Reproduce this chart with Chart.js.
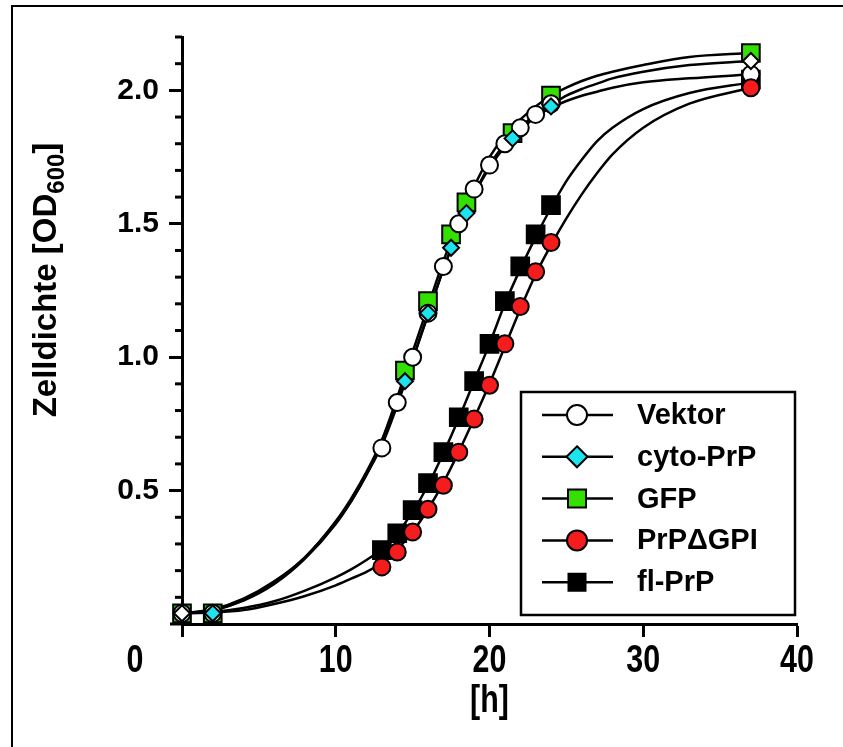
<!DOCTYPE html>
<html>
<head>
<meta charset="utf-8">
<script src="https://cdn.jsdelivr.net/npm/chart.js@4.4.0/dist/chart.umd.min.js"></script>
<style>
  html, body { margin: 0; padding: 0; background: #fff; }
</style>
</head>
<body>
<canvas id="growth-chart" width="843" height="747"></canvas>
<script>
// measured points (time in h, OD600)
const vektorX = [0, 2, 13, 14, 15, 16, 17, 18, 19, 20, 21, 22, 23, 24, 37];
const vektorY = [0.04, 0.04, 0.66, 0.83, 1.0, 1.165, 1.34, 1.50, 1.63, 1.72, 1.80, 1.86, 1.91, 1.95, 2.06];
const cytoX = [0, 2, 14.5, 16, 17.5, 18.5, 21.5, 24, 37];
const cytoY = [0.04, 0.04, 0.91, 1.165, 1.41, 1.54, 1.82, 1.94, 2.11];
const gfpX = [0, 2, 14.5, 16, 17.5, 18.5, 21.5, 24, 37];
const gfpY = [0.04, 0.04, 0.95, 1.21, 1.46, 1.58, 1.84, 1.98, 2.14];
const deltaX = [13, 14, 15, 16, 17, 18, 19, 20, 21, 22, 23, 24, 37];
const deltaY = [0.214, 0.27, 0.345, 0.43, 0.52, 0.644, 0.768, 0.895, 1.05, 1.19, 1.32, 1.43, 2.01];
const flX = [13, 14, 15, 16, 17, 18, 19, 20, 21, 22, 23, 24, 37];
const flY = [0.277, 0.34, 0.427, 0.528, 0.644, 0.775, 0.91, 1.05, 1.21, 1.34, 1.46, 1.57, 2.04];

// fitted growth curves
const fitX = [0, 2, 4, 6, 8, 10, 11, 12, 13, 14, 15, 16, 17, 18, 19, 20, 21, 22, 23, 24, 25, 26, 27, 28, 30, 33, 37];
const vektorFit = [0.04, 0.05, 0.09, 0.155, 0.25, 0.38, 0.46, 0.56, 0.67, 0.82, 0.99, 1.16, 1.33, 1.48, 1.61, 1.71, 1.79, 1.85, 1.90, 1.935, 1.96, 1.98, 1.995, 2.01, 2.03, 2.045, 2.06];
const cytoFit = [0.04, 0.052, 0.088, 0.15, 0.245, 0.375, 0.46, 0.56, 0.68, 0.83, 0.99, 1.16, 1.33, 1.48, 1.61, 1.72, 1.80, 1.86, 1.91, 1.945, 1.98, 2.005, 2.025, 2.045, 2.07, 2.095, 2.11];
const gfpFit = [0.04, 0.055, 0.095, 0.16, 0.25, 0.385, 0.47, 0.57, 0.69, 0.85, 1.02, 1.19, 1.36, 1.51, 1.64, 1.75, 1.83, 1.89, 1.94, 1.98, 2.01, 2.035, 2.055, 2.07, 2.095, 2.125, 2.14];
const deltaFit = [0.04, 0.043, 0.052, 0.075, 0.105, 0.145, 0.17, 0.195, 0.23, 0.28, 0.345, 0.43, 0.53, 0.645, 0.77, 0.90, 1.04, 1.18, 1.31, 1.42, 1.52, 1.61, 1.69, 1.76, 1.86, 1.95, 2.01];
const flFit = [0.04, 0.045, 0.06, 0.085, 0.125, 0.175, 0.205, 0.24, 0.28, 0.34, 0.42, 0.52, 0.64, 0.77, 0.91, 1.05, 1.20, 1.33, 1.45, 1.56, 1.66, 1.74, 1.81, 1.86, 1.93, 1.99, 2.03];

const seriesNames = ['Vektor', 'cyto-PrP', 'GFP', 'PrP\u0394GPI', 'fl-PrP'];
const xTicks = [0, 10, 20, 30, 40];

const GREEN = '#33e000';
const CYAN = '#1de3ef';
const RED = '#f41c1c';
const BOLD = '"Liberation Sans", Arial, sans-serif';

function pts(xs, ys) {
  return xs.map((x, i) => ({ x: x, y: ys[i] }));
}

function isMajor(v) {
  return v > 0.01 && Math.abs(v * 2 - Math.round(v * 2)) < 1e-6;
}

function curve(ys) {
  return {
    data: pts(fitX, ys),
    showLine: true,
    borderColor: '#000',
    borderWidth: 2.5,
    pointRadius: 0,
    cubicInterpolationMode: 'monotone',
    fill: false,
    order: 10,
    clip: false
  };
}

function markers(label, xs, ys, style, radius, fill, order) {
  return {
    label: label,
    data: pts(xs, ys),
    showLine: false,
    pointStyle: style,
    pointRadius: radius,
    pointHoverRadius: radius,
    pointBackgroundColor: fill,
    pointBorderColor: '#000',
    pointBorderWidth: 2,
    order: order,
    clip: false
  };
}

const legendItems = [
  { text: seriesNames[0], style: 'circle', fill: '#fff' },
  { text: seriesNames[1], style: 'diamond', fill: CYAN },
  { text: seriesNames[2], style: 'square', fill: GREEN },
  { text: seriesNames[3], style: 'circle', fill: RED },
  { text: seriesNames[4], style: 'smallsquare', fill: '#000' }
];

function drawMark(ctx, style, x, y, fill) {
  ctx.beginPath();
  if (style === 'circle') {
    ctx.arc(x, y, 10, 0, Math.PI * 2);
  } else if (style === 'diamond') {
    ctx.moveTo(x, y - 10.5); ctx.lineTo(x + 10.5, y); ctx.lineTo(x, y + 10.5); ctx.lineTo(x - 10.5, y);
    ctx.closePath();
  } else if (style === 'square') {
    ctx.rect(x - 9, y - 9, 18, 18);
  } else {
    ctx.rect(x - 8.5, y - 8.5, 17, 17);
  }
  ctx.fillStyle = fill;
  ctx.fill();
  ctx.lineWidth = 2;
  ctx.strokeStyle = '#000';
  ctx.stroke();
}

// condensed bold text, like the narrow face of the original
function narrowText(ctx, text, x, y, size) {
  ctx.save();
  ctx.translate(x, y);
  ctx.scale(0.8, 1);
  ctx.font = 'bold ' + size + 'px ' + BOLD;
  ctx.textAlign = 'center';
  ctx.textBaseline = 'middle';
  ctx.fillText(text, 0, 0);
  ctx.restore();
}

const extras = {
  id: 'extras',
  beforeDraw(chart) {
    const ctx = chart.ctx;
    ctx.save();
    ctx.fillStyle = '#fff';
    ctx.fillRect(0, 0, chart.width, chart.height);
    ctx.strokeStyle = '#000';
    ctx.lineWidth = 2;
    ctx.strokeRect(12, 6, chart.width + 20, chart.height + 20);
    ctx.restore();
  },
  afterDraw(chart) {
    const ctx = chart.ctx;
    const area = chart.chartArea;
    const ys = chart.scales.y;
    const xs = chart.scales.x;
    ctx.save();
    ctx.strokeStyle = '#000';
    ctx.fillStyle = '#000';

    // minor ticks on y
    ctx.lineWidth = 3;
    ys.ticks.forEach(t => {
      if (!isMajor(t.value) && t.value > 0.01) {
        const py = ys.getPixelForValue(t.value);
        ctx.beginPath();
        ctx.moveTo(area.left - 7, py);
        ctx.lineTo(area.left, py);
        ctx.stroke();
      }
    });
    // short piece of x axis left of the origin
    ctx.beginPath();
    ctx.moveTo(area.left - 12, area.bottom);
    ctx.lineTo(area.left, area.bottom);
    ctx.stroke();

    // x tick labels (the origin label sits further left)
    xTicks.forEach(v => {
      const px = xs.getPixelForValue(v) - (v === 0 ? 47 : 0);
      narrowText(ctx, String(v), px, area.bottom + 38, 38);
    });

    // x title
    narrowText(ctx, '[h]', (area.left + area.right) / 2, 702, 38);

    // y title with subscript
    ctx.translate(44, 280);
    ctx.rotate(-Math.PI / 2);
    const mainFont = 'bold 33px ' + BOLD;
    const subFont = 'bold 24px ' + BOLD;
    const a = 'Zelldichte [OD', b = '600', c = ']';
    ctx.font = mainFont; const wa = ctx.measureText(a).width; const wc = ctx.measureText(c).width;
    ctx.font = subFont; const wb = ctx.measureText(b).width;
    const x0 = -(wa + wb + wc) / 2;
    ctx.textAlign = 'left';
    ctx.textBaseline = 'alphabetic';
    ctx.font = mainFont; ctx.fillText(a, x0, 12);
    ctx.font = subFont; ctx.fillText(b, x0 + wa, 20);
    ctx.font = mainFont; ctx.fillText(c, x0 + wa + wb, 12);
    ctx.setTransform(1, 0, 0, 1, 0, 0);

    // legend
    const bx = area.right - 276, by = area.bottom - 232, bw = 274, bh = 223;
    ctx.lineWidth = 2.5;
    ctx.strokeRect(bx, by, bw, bh);
    ctx.font = 'bold 29px ' + BOLD;
    ctx.textAlign = 'left';
    ctx.textBaseline = 'middle';
    legendItems.forEach((it, i) => {
      const ly = by + 23 + i * 41.8;
      ctx.lineWidth = 2.5;
      ctx.beginPath();
      ctx.moveTo(bx + 21, ly);
      ctx.lineTo(bx + 92, ly);
      ctx.stroke();
      drawMark(ctx, it.style, bx + 56, ly, it.fill);
      ctx.fillStyle = '#000';
      ctx.fillText(it.text, bx + 116, ly + 1);
    });
    ctx.restore();
  }
};

const ctx = document.getElementById('growth-chart').getContext('2d');
const chart = new Chart(ctx, {
  type: 'scatter',
  data: {
    datasets: [
      markers(seriesNames[3], deltaX, deltaY, 'circle', 8.5, RED, 1),
      markers(seriesNames[1], cytoX, cytoY, 'rectRot', 8,
        c => (c.dataIndex === 0 || c.dataIndex === cytoX.length - 1) ? '#fff' : CYAN, 2),
      markers(seriesNames[0], vektorX, vektorY, 'circle', 8.5, '#fff', 3),
      markers(seriesNames[2], gfpX, gfpY, 'rect', 12.5, GREEN, 4),
      markers(seriesNames[4], flX, flY, 'rect', 12.5, '#000', 5),
      curve(vektorFit),
      curve(cytoFit),
      curve(gfpFit),
      curve(deltaFit),
      curve(flFit)
    ]
  },
  options: {
    responsive: false,
    animation: false,
    devicePixelRatio: 1,
    layout: { padding: { left: 0, top: 37, right: 46, bottom: 0 } },
    plugins: { legend: { display: false }, tooltip: { enabled: false } },
    scales: {
      x: {
        type: 'linear',
        min: 0,
        max: 40,
        afterBuildTicks: s => { s.ticks = xTicks.map(v => ({ value: v })); },
        ticks: { display: false },
        grid: { drawOnChartArea: false, tickLength: 13, tickWidth: 3, tickColor: '#000' },
        border: { color: '#000', width: 3 },
        afterFit: s => { s.height = 123; }
      },
      y: {
        type: 'linear',
        min: 0,
        max: 2.2,
        ticks: {
          stepSize: 0.1,
          autoSkip: false,
          color: '#000',
          padding: 10,
          font: { family: BOLD, size: 30, weight: 'bold' },
          callback: v => (isMajor(v) ? v.toFixed(1) : '')
        },
        grid: {
          drawOnChartArea: false,
          tickLength: 13,
          tickWidth: 3,
          tickColor: c => (isMajor(c.tick.value) ? '#000' : 'rgba(0,0,0,0)')
        },
        border: { color: '#000', width: 3 },
        afterFit: s => { s.width = 182; }
      }
    }
  },
  plugins: [extras]
});
</script>
</body>
</html>
